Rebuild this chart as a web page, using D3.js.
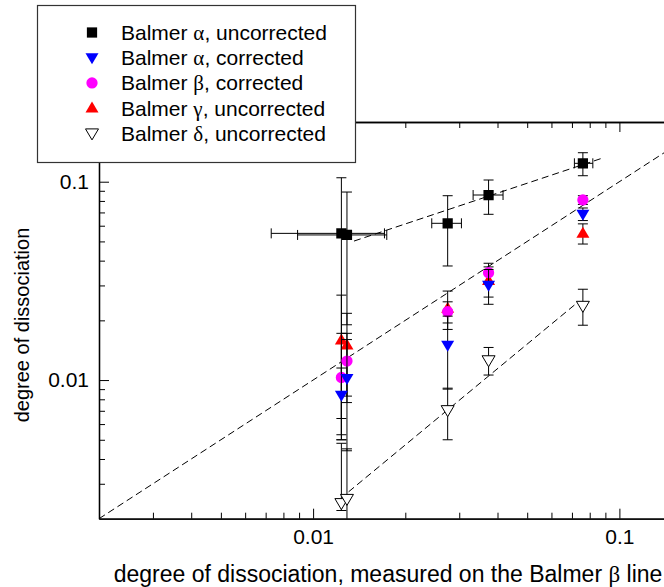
<!DOCTYPE html>
<html><head><meta charset="utf-8">
<script src="https://cdn.jsdelivr.net/npm/d3@7"></script>
<style>
body{margin:0;background:#fff;}
svg{display:block;font-family:"Liberation Sans",Arial,sans-serif;}
.greek{font-family:"Liberation Serif","Times New Roman",serif;}
</style></head>
<body>
<svg id="chart" width="664" height="587"></svg>
<script>
// ---------- data ----------
const xVals = [0.01237, 0.0129, 0.0275, 0.0374, 0.076];
const xErrLo = [0.0073, 0.0089, 0.0244, 0.0333, 0.0713];
const xErrHi = [0.0171, 0.0174, 0.0305, 0.0417, 0.0819];

const alphaUncY  = [0.0549, 0.0539, 0.0617, 0.0857, 0.1238];
const alphaUncLo = [0.0050, 0.0190, 0.0376, 0.0685, 0.1072];
const alphaUncHi = [0.1047, 0.0887, 0.0850, 0.1020, 0.1400];

const gammaUncY  = [0.0159, 0.0150, 0.0230, 0.0317, 0.0549];
const gammaUncLo = [0.0050, 0.0083, 0.0180, 0.0262, 0.0485];
const gammaUncHi = [0.0268, 0.0217, 0.0281, 0.0372, 0.0613];

const betaCorY  = [0.0103, 0.01247, 0.0221, 0.0348, 0.0809];
const betaCorLo = [0.0064, 0.0077, 0.0194, 0.0308, 0.0768];
const betaCorHi = [0.0172, 0.0172, 0.0248, 0.0388, 0.0850];

const alphaCorY  = [0.0084, 0.0102, 0.0150, 0.0301, 0.0687];
const alphaCorLo = [0.0053, 0.0044, 0.0090, 0.0241, 0.0637];
const alphaCorHi = [0.0115, 0.0160, 0.0210, 0.0361, 0.0737];

const deltaUncY  = [0.0024, 0.00252, 0.00706, 0.0126, 0.0237];
const deltaUncLo = [0.0022, 0.0015, 0.0050, 0.0106, 0.0189];
const deltaUncHi = [0.0048, 0.0045, 0.0091, 0.0146, 0.0287];

const fitUpperX = [0.0136, 0.0876],  fitUpperY = [0.0502, 0.1312];
const fitIdentX = [0.002, 0.2],      fitIdentY = [0.002, 0.2];
const fitLowerX = [0.01306, 0.0735], fitLowerY = [0.002733, 0.02483];

const xMajor = [0.01, 0.1], xMajorLabels = ["0.01", "0.1"];
const yMajor = [0.01, 0.1], yMajorLabels = ["0.01", "0.1"];

const legendLabels = [
  ["Balmer ", "α", ", uncorrected"],
  ["Balmer ", "α", ", corrected"],
  ["Balmer ", "β", ", corrected"],
  ["Balmer ", "γ", ", uncorrected"],
  ["Balmer ", "δ", ", uncorrected"]
];

// ---------- layout ----------
const L = 99, R = 711.6, T = 122, B = 518.7;
const svg = d3.select("#chart");
const x = d3.scaleLog().domain([0.002, 0.2]).range([L, R]);
const y = d3.scaleLog().domain([0.002, 0.2]).range([B, T]);

svg.append("defs").append("clipPath").attr("id","clip")
  .append("rect").attr("x",L).attr("y",T).attr("width",R-L).attr("height",B-T);

function minors(lo, hi){
  const out=[];
  for(let d=lo; d<hi*0.999; d*=10){
    for(let k=2;k<10;k++){ const v=d*k; if(v>=lo*0.999 && v<=hi*1.001) out.push(v);} }
  return out;
}
const xMinor = minors(0.001, 0.2).filter(v=>v>0.002*1.0001);
const yMinor = minors(0.001, 0.2).filter(v=>v>0.002*1.0001 && v<0.2*0.999);

function styleAxis(g){
  g.selectAll("path.domain").attr("stroke","#000").attr("stroke-width",1.3);
  g.selectAll(".tick line").attr("stroke","#000").attr("stroke-width",1);
  g.selectAll("text").attr("font-size",21).attr("fill","#000").attr("font-family","Liberation Sans, Arial, sans-serif");
}
// bottom
svg.append("g").attr("transform",`translate(0,${B})`)
  .call(d3.axisBottom(x).tickValues(xMajor).tickFormat((d,i)=>xMajorLabels[i]).tickSizeInner(-10).tickSizeOuter(0).tickPadding(10))
  .call(styleAxis);
svg.append("g").attr("transform",`translate(0,${B})`)
  .call(d3.axisBottom(x).tickValues(xMinor).tickFormat("").tickSizeInner(-6).tickSizeOuter(0)).call(styleAxis);
// top
svg.append("g").attr("transform",`translate(0,${T})`)
  .call(d3.axisTop(x).tickValues(xMajor).tickFormat("").tickSizeInner(-10).tickSizeOuter(0)).call(styleAxis);
svg.append("g").attr("transform",`translate(0,${T})`)
  .call(d3.axisTop(x).tickValues(xMinor).tickFormat("").tickSizeInner(-6).tickSizeOuter(0)).call(styleAxis);
// left
svg.append("g").attr("transform",`translate(${L},0)`)
  .call(d3.axisLeft(y).tickValues(yMajor).tickFormat((d,i)=>yMajorLabels[i]).tickSizeInner(-10).tickSizeOuter(0).tickPadding(10))
  .call(styleAxis);
svg.append("g").attr("transform",`translate(${L},0)`)
  .call(d3.axisLeft(y).tickValues(yMinor).tickFormat("").tickSizeInner(-6).tickSizeOuter(0)).call(styleAxis);

// axis titles
svg.append("text").attr("transform","translate(29,325) rotate(-90)")
  .attr("text-anchor","middle").attr("font-size",20).text("degree of dissociation");
const xt = svg.append("text").attr("x",388).attr("y",582).attr("text-anchor","middle").attr("font-size",23);
xt.append("tspan").text("degree of dissociation, measured on the Balmer ");
xt.append("tspan").attr("class","greek").text("β");
xt.append("tspan").text(" line");

// plot area
const plot = svg.append("g").attr("clip-path","url(#clip)");
const line = d3.line().x(d=>x(d[0])).y(d=>y(d[1]));
[[fitUpperX,fitUpperY],[fitIdentX,fitIdentY],[fitLowerX,fitLowerY]].forEach(([xs,ys])=>{
  plot.append("path").attr("d", line(d3.zip(xs,ys)))
    .attr("fill","none").attr("stroke","#000").attr("stroke-width",1).attr("stroke-dasharray","7,4");
});

const sym = {
  square: d3.symbol().type(d3.symbolSquare).size(105)(),
  circle: d3.symbol().type(d3.symbolCircle).size(100)(),
};
function tri(up, w, h){
  return up ? `M0,${-h*0.6}L${w/2},${h*0.4}L${-w/2},${h*0.4}Z`
            : `M0,${h*0.6}L${w/2},${-h*0.4}L${-w/2},${-h*0.4}Z`;
}
const shapes = {
  square: sym.square, circle: sym.circle,
  up: tri(true,13,11), down: tri(false,13,11)
};

const series = [
  {ys:alphaUncY, lo:alphaUncLo, hi:alphaUncHi, shape:"square", fill:"#000", stroke:"none", xerr:true},
  {ys:gammaUncY, lo:gammaUncLo, hi:gammaUncHi, shape:"up", fill:"#ff0000", stroke:"none"},
  {ys:betaCorY, lo:betaCorLo, hi:betaCorHi, shape:"circle", fill:"#ff00ff", stroke:"none"},
  {ys:alphaCorY, lo:alphaCorLo, hi:alphaCorHi, shape:"down", fill:"#0000ff", stroke:"none"},
  {ys:deltaUncY, lo:deltaUncLo, hi:deltaUncHi, shape:"down", fill:"#fff", stroke:"#000"}
];
const cap = 5;
series.forEach(s=>{
  const g = plot.append("g");
  xVals.forEach((xv,i)=>{
    const cx = x(xv), cy = y(s.ys[i]), ylo = y(s.lo[i]), yhi = y(s.hi[i]);
    const eb = g.append("g").attr("stroke","#000").attr("stroke-width",1).attr("fill","none");
    eb.append("line").attr("x1",cx).attr("x2",cx).attr("y1",ylo).attr("y2",yhi);
    eb.append("line").attr("x1",cx-cap).attr("x2",cx+cap).attr("y1",ylo).attr("y2",ylo);
    eb.append("line").attr("x1",cx-cap).attr("x2",cx+cap).attr("y1",yhi).attr("y2",yhi);
    if(s.xerr){
      const xl = x(xErrLo[i]), xh = x(xErrHi[i]);
      eb.append("line").attr("x1",xl).attr("x2",xh).attr("y1",cy).attr("y2",cy);
      eb.append("line").attr("x1",xl).attr("x2",xl).attr("y1",cy-cap).attr("y2",cy+cap);
      eb.append("line").attr("x1",xh).attr("x2",xh).attr("y1",cy-cap).attr("y2",cy+cap);
    }
  });
  xVals.forEach((xv,i)=>{
    g.append("path").attr("d",shapes[s.shape])
      .attr("transform",`translate(${x(xv)},${y(s.ys[i])})`)
      .attr("fill",s.fill).attr("stroke",s.stroke).attr("stroke-width",1);
  });
});

// legend
const leg = svg.append("g");
leg.append("rect").attr("x",37.5).attr("y",5.5).attr("width",318).attr("height",157)
  .attr("fill","#fff").attr("stroke","#333").attr("stroke-width",1.2);
const legShapes = [
  {shape:"square", fill:"#000", stroke:"none"},
  {shape:"down", fill:"#0000ff", stroke:"none"},
  {shape:"circle", fill:"#ff00ff", stroke:"none"},
  {shape:"up", fill:"#ff0000", stroke:"none"},
  {shape:"down", fill:"#fff", stroke:"#000"}
];
legendLabels.forEach((lab,i)=>{
  const cy = 32.5 + i*25.2;
  leg.append("path").attr("d",shapes[legShapes[i].shape]).attr("transform",`translate(92,${cy})`)
    .attr("fill",legShapes[i].fill).attr("stroke",legShapes[i].stroke).attr("stroke-width",1);
  const t = leg.append("text").attr("x",121).attr("y",cy+7.5).attr("font-size",21);
  t.append("tspan").text(lab[0]);
  t.append("tspan").attr("class","greek").text(lab[1]);
  t.append("tspan").text(lab[2]);
});
</script>
</body></html>
